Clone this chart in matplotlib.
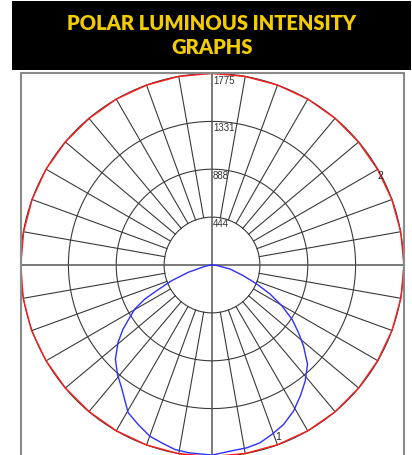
import matplotlib
matplotlib.use("Agg")
import matplotlib.pyplot as plt
import numpy as np
from matplotlib.patches import Rectangle
import matplotlib.transforms as mtransforms

# ring values of the polar grid (cd)
rings = [444, 888, 1331, 1775]
ring_labels = ["444", "888", "1331", "1775"]

# curve 1 (blue): angle from nadir in degrees, intensity
blue_angles = [-90, -85, -79.5, -72.9, -68.7, -65.1, -63.1, -60.3, -57.5, -54.2,
               -50.5, -45.7, -40.9, -36.4, -29.6, -24.9, -20.0, -15.8, -11.4,
               -7.2, 0, 5.5, 10.8, 15.1, 19.5, 24.2, 29.2, 34.0, 38.8, 43.9,
               48.5, 52.0, 55.9, 59.7, 63.4, 67.0, 71.1, 77.5, 85, 90]
blue_values = [0, 15, 66, 230, 402, 567, 698, 824, 904, 1017,
               1129, 1251, 1339, 1413, 1574, 1628, 1688, 1713, 1744,
               1754, 1762, 1734, 1725, 1707, 1665, 1620, 1550, 1464, 1379, 1277,
               1132, 1017, 895, 750, 603, 451, 307, 171, 40, 0]

# curve 2 (red): full turn every 10 degrees
red_angles = list(range(0, 370, 10))
red_values = [1775, 1774, 1773, 1775, 1776, 1774, 1773, 1775, 1778, 1780,
              1776, 1774, 1772, 1773, 1775, 1776, 1775, 1774, 1776, 1775,
              1774, 1775, 1773, 1774, 1776, 1775, 1773, 1772, 1777, 1780,
              1776, 1774, 1773, 1774, 1775, 1776, 1775]

W, H = 412, 456
fig = plt.figure(figsize=(W / 100, H / 100), dpi=100)
fig.patch.set_facecolor("white")

# header band
fig.patches.append(Rectangle((12 / W, 1 - 71 / H), 399 / W, 69 / H,
                             transform=fig.transFigure, facecolor="black",
                             edgecolor="none", zorder=0))
fig.text(212 / W, 1 - 24 / H, "POLAR LUMINOUS INTENSITY", color="#F2CC00",
         fontsize=14.5, fontweight="heavy", family="Lato", ha="center", va="center")
fig.text(212 / W, 1 - 47 / H, "GRAPHS", color="#F2CC00",
         fontsize=14.5, fontweight="heavy", family="Lato", ha="center", va="center")

# chart frame
fig.patches.append(Rectangle((20.5 / W, -0.05), 383.5 / W, 1 - 74 / H + 0.05,
                             transform=fig.transFigure, facecolor="none",
                             edgecolor="#8a8a8a", linewidth=1.5, zorder=0))

R = 191.5
ax = fig.add_axes([(212 - R) / W, 1 - (266 + R) / H, 2 * R / W, 2 * R / H],
                  projection="polar")
ax.set_theta_zero_location("S")
ax.set_theta_direction(1)
ax.set_ylim(0, rings[-1])
ax.axis("off")

gc = "#3a3a3a"
full = np.linspace(0, 2 * np.pi, 721)
for r in rings:
    ax.plot(full, np.full_like(full, r), color=gc, lw=0.8, clip_on=False)

for a in range(0, 360, 10):
    t = np.deg2rad(a)
    if a % 90 == 0:
        ax.plot([t, t], [0, rings[-1]], color="#555555", lw=1.1, clip_on=False)
    else:
        ax.plot([t, t], [rings[0], rings[-1]], color=gc, lw=0.8, clip_on=False)

ax.plot(np.deg2rad(red_angles), red_values, color="#ff1a1a", lw=1.0,
        clip_on=False, zorder=5)
ax.plot(np.deg2rad(blue_angles), blue_values, color="#2f2fff", lw=1.0,
        clip_on=False, zorder=6)

off = mtransforms.offset_copy(ax.transData, fig=fig, x=1, y=-1, units="dots")
for r, lab in zip(rings, ring_labels):
    ax.text(np.pi, r, lab, transform=off, fontsize=7, color="#333333",
            ha="left", va="top", family="Liberation Sans", zorder=7)

ax.text(np.deg2rad(118), 1772, "2", fontsize=7.5, color="#222222",
        ha="center", va="center", family="Liberation Sans", zorder=7)
ax.text(np.deg2rad(21), 1700, "1", fontsize=7.5, color="#222222",
        ha="center", va="center", family="Liberation Sans", zorder=7)

fig.savefig("out.png", dpi=100)
